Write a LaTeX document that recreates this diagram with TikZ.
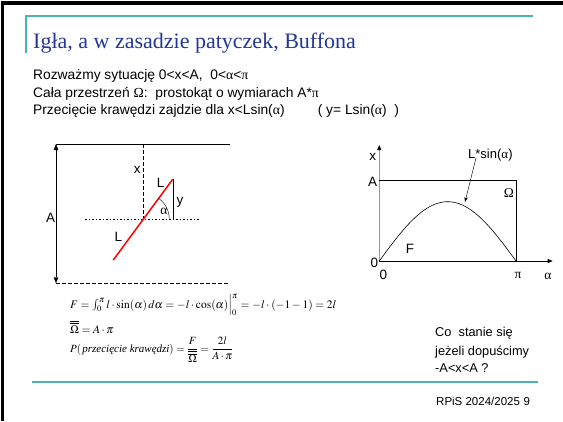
\documentclass[tikz,border=0pt]{standalone}
\usepackage{mathptmx}
\usepackage{fontspec}
\setmainfont{Liberation Serif}
\setsansfont{Liberation Sans}
\usetikzlibrary{arrows.meta}
\definecolor{tealline}{RGB}{75,180,178}
\definecolor{titleblue}{RGB}{35,55,150}
\definecolor{axisgray}{RGB}{150,150,150}
\newcommand{\gr}[1]{{\rmfamily #1}}
\tikzset{
  body/.style={anchor=west, inner sep=0pt, font=\sffamily\fontsize{13.8}{16}\selectfont},
  note/.style={anchor=west, inner sep=0pt, font=\sffamily\fontsize{12.8}{15}\selectfont},
  foottext/.style={anchor=west, inner sep=0pt, font=\sffamily\fontsize{11.5}{13}\selectfont},
  lbl/.style={inner sep=0pt, font=\sffamily\fontsize{13.5}{15}\selectfont},
  glbl/.style={inner sep=0pt, font=\rmfamily\fontsize{13.5}{15}\selectfont},
  mathline/.style={anchor=west, inner sep=0pt, font=\fontsize{11.5}{13}\selectfont},
  tip/.style={-{Triangle[length=5pt,width=4pt,color=black]}},
}
\begin{document}
\begin{tikzpicture}[x=1pt,y=-1pt]
\useasboundingbox (0,0) rectangle (563,421);
\fill[white] (0,0) rectangle (563,421);
% frame
\draw[line width=3.5pt] (2.5,421) -- (2.5,3) -- (563,3);
% title
\draw[tealline, line width=1.5pt] (26,53) -- (26,16) -- (533,16);
\node[anchor=base west, inner sep=0pt, font=\rmfamily\fontsize{22}{25}\selectfont, text=titleblue] (title) at (33,48) {Igła, a w zasadzie patyczek, Buffona};
% body text
\node[body] (l1) at (33,76) {Rozważmy sytuację 0<x<A,\ \ 0<\gr{α}<\gr{π}};
\node[body] (l2) at (33,94) {Cała przestrzeń \gr{Ω}:\ \ prostokąt o wymiarach A*\gr{π}};
\node[body] (l3) at (33,111) {Przecięcie krawędzi zajdzie dla x<Lsin(\gr{α})\hspace{2.4em}( y= Lsin(\gr{α})\ \ )};
% left diagram
\coordinate (tl) at (56,144);
\coordinate (tr) at (230,144);
\coordinate (bl) at (56,283.3);
\coordinate (br) at (230,283.3);
\coordinate (xtop) at (143.3,144);
\coordinate (c) at (143.3,219.3);
\coordinate (dl) at (85,219.3);
\coordinate (dr) at (200,219.3);
\coordinate (rlow) at (113.3,260);
\coordinate (rhigh) at (172.7,179.3);
\coordinate (yfoot) at (172.7,219.3);
\draw (tl) -- (tr);
\draw[dash pattern=on 4pt off 2pt] (bl) -- (br);
\draw[{Triangle[length=6pt,width=4.5pt]}-{Triangle[length=6pt,width=4.5pt]}] (tl) -- (bl);
\draw[dash pattern=on 4pt off 2pt] (xtop) -- (c);
\draw[dash pattern=on 1.5pt off 2pt] (dl) -- (dr);
\draw[red, line width=1.5pt] (rlow) -- (rhigh);
\draw (rhigh) -- (yfoot);
\draw (c) ++(26,0) arc[start angle=0, end angle=-53.6, radius=26];
\node[lbl] (lA) at (50.7,218.3) {A};
\node[lbl] (lx) at (137.3,170) {x};
\node[lbl] (lL1) at (160.7,183.3) {L};
\node[lbl] (ly) at (180,202.7) {y};
\node[glbl] (lal) at (164,211.7) {α};
\node[lbl] (lL2) at (118.3,236.7) {L};
% right diagram
\coordinate (O) at (379.3,261);
\coordinate (ytop) at (379.3,145);
\coordinate (xend) at (552.7,261);
\coordinate (Ay) at (379.3,180);
\coordinate (rc) at (516,180);
\coordinate (rb) at (516,261);
\draw[axisgray, line width=0.9pt, tip] (O) -- (ytop);
\draw[line width=0.6pt, tip] (O) -- (xend);
\draw[line width=0.6pt] (Ay) -- (rc) -- (rb);
\draw[line width=0.6pt] plot[domain=0:180, samples=61] ({379.3+\x/180*136.7}, {261-59.3*sin(\x)});
\node[lbl] (rx) at (372.7,156.7) {x};
\node[lbl] (rA) at (372.7,182) {A};
\node[glbl] (rOm) at (509,192.7) {Ω};
\node[lbl] (rF) at (410,249) {F};
\node[lbl] (r0a) at (374.5,263) {0};
\node[lbl] (r0b) at (383.3,275) {0};
\node[glbl] (rpi) at (518,275) {π};
\node[glbl] (ral) at (548,276.7) {α};
\node[lbl, anchor=west, font=\sffamily\fontsize{13}{15}\selectfont] (rL) at (468,155) {L*sin(\gr{α})};
\draw[-{Stealth[length=5pt,width=3.5pt]}] (rL.west) ++(8,3) -- (465,202);
% formulas
\node[mathline] (f1) at (70,305) {$F=\int_0^{\pi} l\cdot\sin(\alpha)\,d\alpha=-l\cdot\cos(\alpha)\Big|_0^{\pi}=-l\cdot(-1-1)=2l$};
\node[mathline] (f2) at (70,327) {$\overline{\overline{\Omega}}=A\cdot\pi$};
\node[mathline, font=\fontsize{11}{13}\selectfont] (f3) at (70,350) {$\displaystyle P(\,\textit{przecięcie krawędzi})=\frac{F}{\overline{\overline{\Omega}}}=\frac{2l}{A\cdot\pi}$};
% bottom right
\node[note] (q1) at (435,333.3) {Co\ \ stanie się};
\node[note] (q2) at (435,351.7) {jeżeli dopuścimy};
\node[note] (q3) at (435,368.3) {-A<x<A ?};
\draw[tealline, line width=1.5pt] (32,382) -- (538,382);
\node[foottext] (foot) at (436,401.7) {RPiS 2024/2025};
\node[foottext] (page) at (523.5,401.7) {9};
\end{tikzpicture}
\end{document}
